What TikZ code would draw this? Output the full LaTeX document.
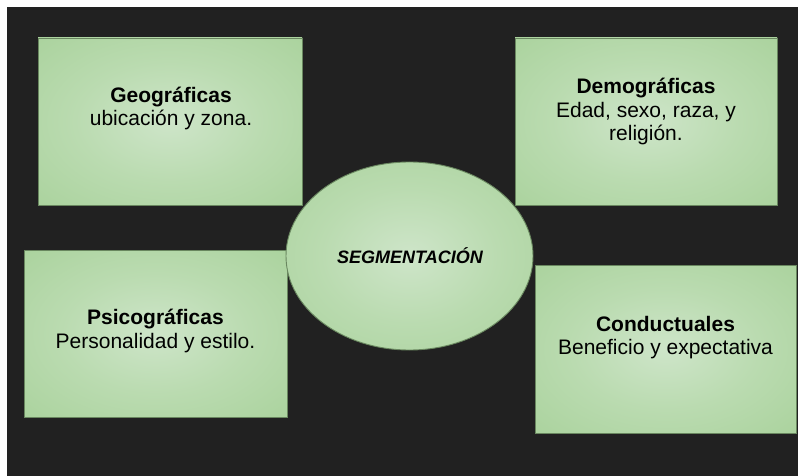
\documentclass[tikz,border=0pt]{standalone}
\usepackage{fontspec}
\setmainfont{Liberation Sans}
\usetikzlibrary{shapes.geometric}
\definecolor{bgdark}{RGB}{33,33,33}
\definecolor{cin}{RGB}{206,229,201}
\definecolor{cmid}{RGB}{186,219,176}
\definecolor{cout}{RGB}{160,205,145}
\definecolor{ccorner}{RGB}{146,197,128}
\definecolor{cedge}{RGB}{105,135,95}
\pgfdeclareradialshading{greenglow}{\pgfpoint{0bp}{0bp}}{%
  color(0bp)=(cin); color(18bp)=(cmid); color(48bp)=(cout); color(72bp)=(ccorner)}
\tikzset{
  panel/.style={rectangle, shading=greenglow, draw=cedge, line width=0.9pt, inner sep=0pt},
  centre/.style={ellipse, shading=greenglow, draw=cedge, line width=0.9pt, inner sep=0pt,
    minimum width=247pt, minimum height=188pt},
  label/.style={align=center, inner sep=0pt, text=black,
    font=\fontsize{21}{23.5}\selectfont},
  title/.style={font=\fontsize{18}{20}\selectfont\bfseries\itshape, inner sep=0pt, text=black}
}
\begin{document}
\begin{tikzpicture}[x=1pt,y=-1pt]
  \useasboundingbox (0,0) rectangle (798,476);
  \fill[white] (0,0) rectangle (798,476);
  \fill[bgdark] (7,7) rectangle (798,476);

  \node[panel, minimum width=264pt, minimum height=167pt] (geo) at (170,121.5) {};
  \node[panel, minimum width=262pt, minimum height=167pt] (dem) at (646,121.5) {};
  \node[panel, minimum width=263pt, minimum height=167pt] (psi) at (155.5,333.5) {};
  \node[panel, minimum width=261pt, minimum height=168pt] (con) at (665.5,349) {};
  \node[centre] (seg) at (409.5,256) {};

  \node[label] (geot) at (171,108.5) {\textbf{Geográficas}\\ubicación y zona.};
  \node[label] (demt) at (646,111.5) {\textbf{Demográficas}\\Edad, sexo, raza, y\\religión.};
  \node[label] (psit) at (155.5,331) {\textbf{Psicográficas}\\Personalidad y estilo.};
  \node[label] (cont) at (665.5,337.5) {\textbf{Conductuales}\\Beneficio y expectativa};
  \node[title] (segt) at (410,256) {SEGMENTACIÓN};
\end{tikzpicture}
\end{document}
